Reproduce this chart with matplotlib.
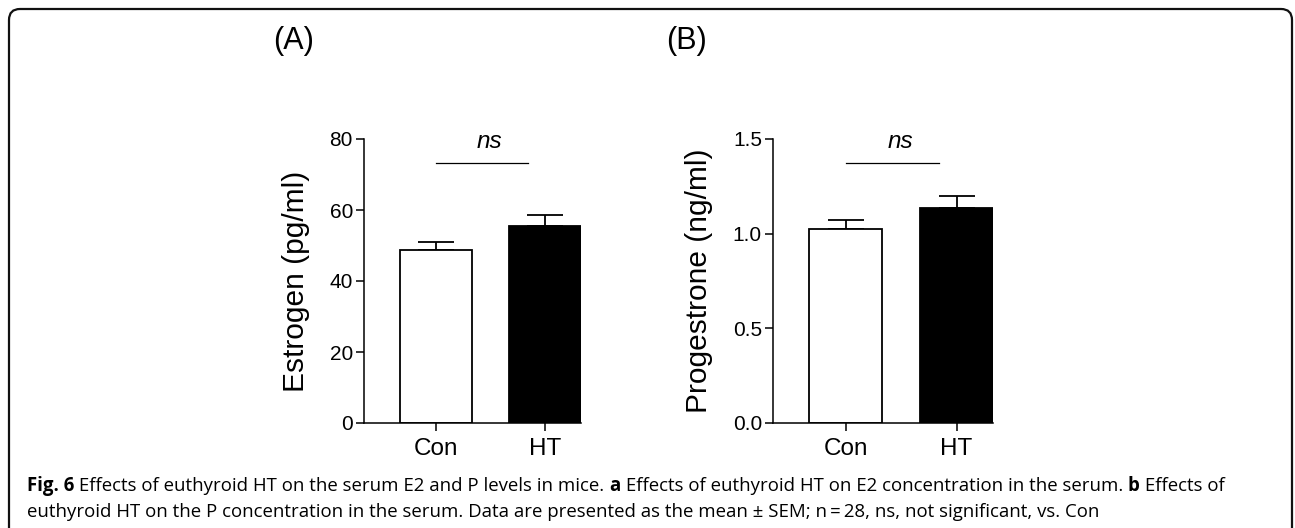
"""
Serum E2 and P levels in mice (Con vs HT), two bar panels with caption.
"""
import matplotlib
matplotlib.use("Agg")
import matplotlib.pyplot as plt
from matplotlib.patches import FancyBboxPatch
from matplotlib.transforms import IdentityTransform

# data
groups = ["Con", "HT"]
estrogen_mean = [48.6, 55.6]
estrogen_sem = [2.4, 2.9]
progesterone_mean = [1.026, 1.136]
progesterone_sem = [0.045, 0.061]

estrogen_ticks = [0, 20, 40, 60, 80]
progesterone_ticks = [0.0, 0.5, 1.0, 1.5]
progesterone_ticklabels = ["0.0", "0.5", "1.0", "1.5"]

bar_colors = ["white", "black"]

caption_line1 = [("Fig. 6", True),
                 (" Effects of euthyroid HT on the serum E2 and P levels in mice. ", False),
                 ("a", True),
                 (" Effects of euthyroid HT on E2 concentration in the serum. ", False),
                 ("b", True),
                 (" Effects of", False)]
caption_line2 = [("euthyroid HT on the P concentration in the serum. Data are presented "
                  "as the mean \u00b1 SEM; n\u2009=\u200928, ns, not significant, vs. Con", False)]

plt.rcParams["font.family"] = ["Liberation Sans", "DejaVu Sans"]

W, H = 1295, 528
fig = plt.figure(figsize=(W / 100, H / 100), dpi=100)


def bar_panel(left_px, width_px, means, sems, ylim, ticks, ticklabels, ylabel,
              ns_y, label_x):
    ax = fig.add_axes([left_px / W, 1 - 423 / H, width_px / W, 284 / H])
    x = list(range(len(groups)))
    ax.bar(x, means, width=0.66, color=bar_colors, edgecolor="black",
           linewidth=1.3, zorder=2)
    ax.errorbar(x, means, yerr=[[0] * len(sems), sems], fmt="none",
                ecolor="black", elinewidth=1.3, capsize=13, capthick=1.3,
                zorder=1)
    ax.set_xlim(-0.66, 1.33)
    ax.set_ylim(*ylim)
    ax.set_yticks(ticks)
    ax.set_yticklabels(ticklabels, fontsize=15)
    ax.set_xticks(x)
    ax.set_xticklabels(groups, fontsize=17.5)
    for s in ["top", "right"]:
        ax.spines[s].set_visible(False)
    for s in ["left", "bottom"]:
        ax.spines[s].set_linewidth(1.1)
    ax.tick_params(axis="both", length=6, width=1.1, direction="out")
    ax.tick_params(axis="y", pad=2)
    ax.tick_params(axis="x", pad=5)
    ax.set_ylabel(ylabel, fontsize=21.5)
    ax.yaxis.set_label_coords(label_x, 0.5)
    # ns bracket
    ax.plot([0, 0.84], [ns_y, ns_y], color="black", linewidth=0.9,
            clip_on=False)
    ax.text(0.49, ns_y + (ylim[1] - ylim[0]) * 0.035, "ns", style="italic",
            fontsize=17.5, ha="center", va="bottom")
    return ax


ax_a = bar_panel(364, 217, estrogen_mean, estrogen_sem, (0, 80),
                 estrogen_ticks, [str(t) for t in estrogen_ticks],
                 "Estrogen (pg/ml)", 73.2, -0.249)
ax_b = bar_panel(773, 220, progesterone_mean, progesterone_sem, (0, 1.5),
                 progesterone_ticks, progesterone_ticklabels,
                 "Progestrone (ng/ml)", 1.373, -0.273)

# panel letters
fig.text(294 / W, 1 - 41 / H, "(A)", fontsize=22, ha="center", va="center")
fig.text(686 / W, 1 - 41 / H, "(B)", fontsize=22, ha="center", va="center")

# rounded frame
frame = FancyBboxPatch((9, -30), 1283, H - 9 + 30,
                       boxstyle="round,pad=0,rounding_size=11",
                       transform=IdentityTransform(), facecolor="none",
                       edgecolor="#111111", linewidth=1.6)
fig.add_artist(frame)

# caption with bold runs
renderer = fig.canvas.get_renderer()
cap_size = 13.45


def draw_runs(runs, x0, y_px):
    x = x0
    for txt, bold in runs:
        t = fig.text(x / W, 1 - y_px / H, txt, fontsize=cap_size,
                     family=["Open Sans", "DejaVu Sans"],
                     weight="bold" if bold else "normal",
                     ha="left", va="baseline")
        x += t.get_window_extent(renderer).width


draw_runs(caption_line1, 27, 491)
draw_runs(caption_line2, 27, 517)

fig.savefig("out.png", dpi=100)
